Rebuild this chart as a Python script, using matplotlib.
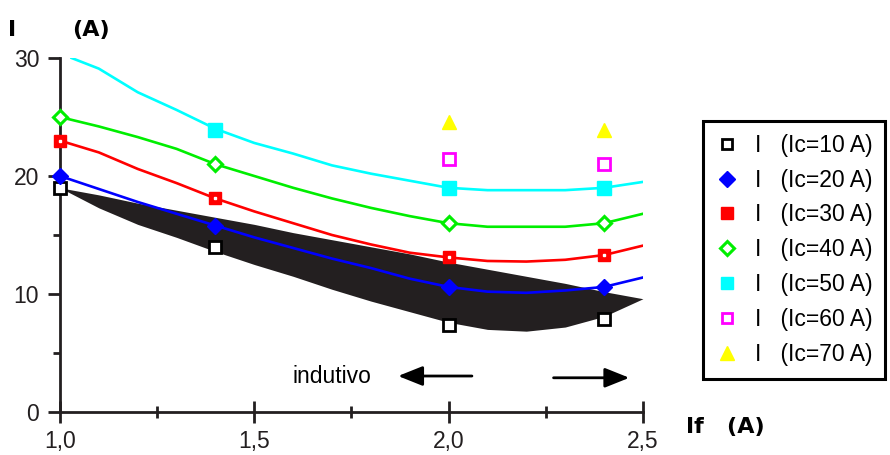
import matplotlib
matplotlib.use("Agg")
import matplotlib.pyplot as plt
from matplotlib.lines import Line2D

plt.rcParams['font.family'] = ['Liberation Sans', 'DejaVu Sans']

# measured points (If in A)
x_meas = [1.0, 1.4, 2.0, 2.4]
i10 = [19.0, 14.0, 7.4, 7.9]
i20 = [20.0, 15.8, 10.6, 10.6]
i30 = [23.0, 18.1, 13.1, 13.3]
i40 = [25.0, 21.0, 16.0, 16.0]
x50 = [1.4, 2.0, 2.4]
i50 = [23.9, 19.0, 19.0]
x_hi = [2.0, 2.4]
i60 = [21.4, 21.0]
i70 = [24.6, 23.9]

# fitted curves
xc = [1.0, 1.1, 1.2, 1.3, 1.4, 1.5, 1.6, 1.7, 1.8, 1.9, 2.0, 2.1, 2.2, 2.3, 2.4, 2.5]
c20 = [20.0, 18.9, 17.8, 16.8, 15.8, 14.8, 13.9, 13.0, 12.2, 11.3, 10.6, 10.2, 10.1, 10.3, 10.6, 11.4]
c30 = [23.0, 22.0, 20.6, 19.4, 18.1, 17.0, 16.0, 15.0, 14.2, 13.5, 13.1, 12.8, 12.75, 12.9, 13.3, 14.1]
c40 = [25.0, 24.2, 23.3, 22.3, 21.0, 20.0, 19.0, 18.1, 17.3, 16.6, 16.0, 15.7, 15.7, 15.7, 16.0, 16.8]
xc50 = [1.03, 1.1, 1.2, 1.3, 1.4, 1.5, 1.6, 1.7, 1.8, 1.9, 2.0, 2.1, 2.2, 2.3, 2.4, 2.5]
c50 = [30.0, 29.1, 27.1, 25.6, 24.0, 22.8, 21.9, 20.9, 20.2, 19.6, 19.0, 18.8, 18.8, 18.8, 19.0, 19.5]

# black band (Ic=10)
band_top = [19.0, 18.4, 17.7, 17.1, 16.5, 15.9, 15.2, 14.6, 14.0, 13.4, 12.7, 12.1, 11.5, 10.9, 10.2, 9.6]
band_bot = [19.0, 17.3, 15.9, 14.8, 13.6, 12.5, 11.5, 10.4, 9.4, 8.5, 7.6, 7.0, 6.85, 7.2, 8.1, 9.6]

labels = ['I   (Ic=10 A)', 'I   (Ic=20 A)', 'I   (Ic=30 A)', 'I   (Ic=40 A)',
          'I   (Ic=50 A)', 'I   (Ic=60 A)', 'I   (Ic=70 A)']

fig = plt.figure(figsize=(8.9, 4.55), dpi=100)
ax = fig.add_axes([0.0674, 0.0945, 0.655, 0.778])

ax.fill_between(xc, band_bot, band_top, color='#231f20', lw=0, zorder=1)

lw = 1.9
ax.plot(xc, c20, color='#0000ff', lw=lw, zorder=2)
ax.plot(xc, c30, color='#ff0000', lw=lw, zorder=2)
ax.plot(xc, c40, color='#00ee00', lw=lw, zorder=2)
ax.plot(xc50, c50, color='#00ffff', lw=lw, zorder=2)

ax.plot(x_meas, i10, 's', ms=8, mfc='white', mec='black', mew=2, zorder=4, clip_on=False)
ax.plot(x_meas, i20, 'D', ms=8.5, mfc='#0000ff', mec='#0000ff', zorder=4, clip_on=False)
ax.plot(x_meas, i30, 's', ms=9, mfc='#ff0000', mec='#ff0000', zorder=4, clip_on=False)
ax.plot(x_meas, i30, 's', ms=1.5, mfc='white', mec='white', zorder=5, clip_on=False)
ax.plot(x_meas, i40, 'D', ms=7.5, mfc='white', mec='#00ee00', mew=2.2, zorder=4, clip_on=False)
ax.plot(x50, i50, 's', ms=10, mfc='#00ffff', mec='#00ffff', zorder=4)
ax.plot(x_hi, i60, 's', ms=8, mfc='white', mec='#ff00ff', mew=2, zorder=4)
ax.plot(x_hi, i70, '^', ms=10, mfc='#ffff00', mec='#ffff00', zorder=4)

ax.set_xlim(1.0, 2.5)
ax.set_ylim(0, 30)
ax.set_xticks([1.0, 1.5, 2.0, 2.5])
ax.set_xticklabels(['1,0', '1,5', '2,0', '2,5'])
ax.set_xticks([1.25, 1.75, 2.25], minor=True)
ax.set_yticks([0, 10, 20, 30])
ax.set_yticks([5, 15, 25], minor=True)
for s in ['top', 'right']:
    ax.spines[s].set_visible(False)
for s in ['left', 'bottom']:
    ax.spines[s].set_linewidth(2)
    ax.spines[s].set_color('#231f20')
ax.tick_params(which='major', length=9, width=2, labelsize=16.5, color='#231f20',
               labelcolor='#231f20', pad=6)
ax.tick_params(which='minor', length=5, width=2, color='#231f20')
ax.tick_params(axis='x', which='major', direction='inout', length=16, pad=5)
ax.tick_params(axis='x', which='minor', direction='inout', length=8)

# arrows and text
ax.text(1.597, 3.05, 'indutivo', fontsize=16.5, va='center', ha='left')
ax.annotate('', xy=(1.87, 3.05), xytext=(2.06, 3.05),
            arrowprops=dict(arrowstyle='-|>,head_length=1.5,head_width=0.6', lw=2,
                            color='black', shrinkA=0, shrinkB=0))
ax.annotate('', xy=(2.465, 2.9), xytext=(2.27, 2.9),
            arrowprops=dict(arrowstyle='-|>,head_length=1.5,head_width=0.6', lw=2,
                            color='black', shrinkA=0, shrinkB=0))

# axis labels
fig.text(8 / 890, 1 - 30 / 455, 'I', fontsize=16, fontweight='bold', va='center',
         family='DejaVu Sans')
fig.text(72 / 890, 1 - 30 / 455, '(A)', fontsize=16, fontweight='bold', va='center',
         family='DejaVu Sans')
fig.text(686 / 890, 1 - 427 / 455, 'If   (A)', fontsize=16, fontweight='bold', va='center',
         family='DejaVu Sans')

# legend
handles = [
    Line2D([], [], ls='none', marker='s', ms=7.5, mfc='white', mec='black', mew=2),
    Line2D([], [], ls='none', marker='D', ms=8, mfc='#0000ff', mec='#0000ff'),
    Line2D([], [], ls='none', marker='s', ms=8, mfc='#ff0000', mec='#ff0000'),
    Line2D([], [], ls='none', marker='D', ms=7, mfc='white', mec='#00ee00', mew=2.2),
    Line2D([], [], ls='none', marker='s', ms=9, mfc='#00ffff', mec='#00ffff'),
    Line2D([], [], ls='none', marker='s', ms=7.5, mfc='white', mec='#ff00ff', mew=2),
    Line2D([], [], ls='none', marker='^', ms=9.5, mfc='#ffff00', mec='#ffff00'),
]
leg = fig.legend(handles, labels, loc='upper left', bbox_to_anchor=(703 / 890, 1 - 121 / 455),
                 fontsize=16.5, frameon=True, fancybox=False, framealpha=1,
                 edgecolor='black', handlelength=1.0, handletextpad=0.7,
                 labelspacing=0.52, borderpad=0.55, borderaxespad=0)
leg.get_frame().set_linewidth(2.2)

fig.savefig('out.png', dpi=100)
